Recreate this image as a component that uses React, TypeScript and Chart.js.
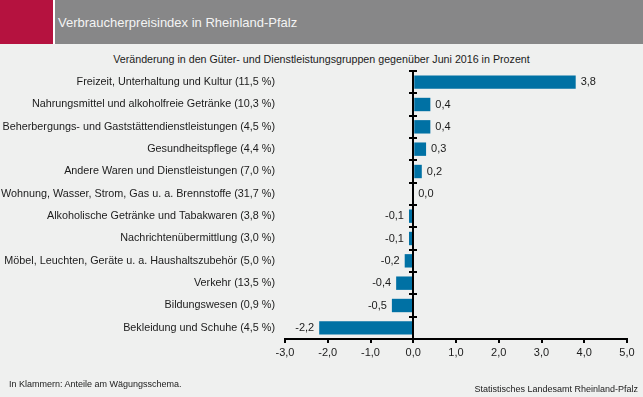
import React, { useEffect, useRef } from 'react';
import { Chart, registerables } from 'chart.js';

Chart.register(...registerables);

const title = 'Verbraucherpreisindex in Rheinland-Pfalz';
const subtitle = 'Veränderung in den Güter- und Dienstleistungsgruppen gegenüber Juni 2016 in Prozent';
const noteLeft = 'In Klammern: Anteile am Wägungsschema.';
const noteRight = 'Statistisches Landesamt Rheinland-Pfalz';

const categories = [
  'Freizeit, Unterhaltung und Kultur (11,5 %)',
  'Nahrungsmittel und alkoholfreie Getränke (10,3 %)',
  'Beherbergungs- und Gaststättendienstleistungen (4,5 %)',
  'Gesundheitspflege (4,4 %)',
  'Andere Waren und Dienstleistungen (7,0 %)',
  'Wohnung, Wasser, Strom, Gas u. a. Brennstoffe (31,7 %)',
  'Alkoholische Getränke und Tabakwaren (3,8 %)',
  'Nachrichtenübermittlung (3,0 %)',
  'Möbel, Leuchten, Geräte u. a. Haushaltszubehör (5,0 %)',
  'Verkehr (13,5 %)',
  'Bildungswesen (0,9 %)',
  'Bekleidung und Schuhe (4,5 %)',
];

const values = [3.8, 0.4, 0.4, 0.3, 0.2, 0.0, -0.1, -0.1, -0.2, -0.4, -0.5, -2.2];

const xTickValues = [-3, -2, -1, 0, 1, 2, 3, 4, 5];
const xTickLabels = ['-3,0', '-2,0', '-1,0', '0,0', '1,0', '2,0', '3,0', '4,0', '5,0'];

const FONT = '"Liberation Sans", Arial, Helvetica, sans-serif';
const TEXT = '#1b1b1b';
const BAR = '#0071a4';
const BG = '#eff0ef';

const fmt = (v: number) => v.toFixed(1).replace('.', ',');

const zeroAxisPlugin = {
  id: 'zeroAxis',
  afterDatasetsDraw(chart: any) {
    const { ctx, chartArea, scales } = chart;
    const xs = scales.x;
    const ys = scales.y;
    const x0 = Math.round(xs.getPixelForValue(0));
    ctx.save();
    ctx.strokeStyle = '#000';
    ctx.lineWidth = 2;
    ctx.beginPath();
    ctx.moveTo(x0, chartArea.top);
    ctx.lineTo(x0, chartArea.bottom);
    ctx.stroke();
    const step = ys.getPixelForValue(1) - ys.getPixelForValue(0);
    ctx.beginPath();
    for (let i = 0; i < categories.length; i++) {
      const yb = Math.round(ys.getPixelForValue(i) - step / 2);
      ctx.moveTo(x0 - 4, yb);
      ctx.lineTo(x0 + 4, yb);
    }
    ctx.stroke();

    const meta = chart.getDatasetMeta(0);
    ctx.font = `11px ${FONT}`;
    ctx.fillStyle = TEXT;
    ctx.textBaseline = 'middle';
    meta.data.forEach((el: any, i: number) => {
      const v = values[i];
      const txt = fmt(v);
      if (v < 0) {
        ctx.textAlign = 'right';
        ctx.fillText(txt, el.x - 5, el.y);
      } else {
        ctx.textAlign = 'left';
        ctx.fillText(txt, el.x + 5, el.y);
      }
    });
    ctx.restore();
  },
};

export default function App() {
  const ref = useRef<HTMLCanvasElement | null>(null);

  useEffect(() => {
    if (!ref.current) return;
    const chart = new Chart(ref.current, {
      type: 'bar',
      data: {
        labels: categories,
        datasets: [
          {
            data: values,
            backgroundColor: BAR,
            borderWidth: 0,
            barPercentage: 0.6,
            categoryPercentage: 1,
          },
        ],
      },
      options: {
        indexAxis: 'y',
        animation: false,
        responsive: false,
        devicePixelRatio: 1,
        layout: { padding: { top: 71, right: 16, bottom: 28, left: 0 } },
        plugins: {
          legend: { display: false },
          tooltip: { enabled: false },
          title: { display: false },
        },
        scales: {
          x: {
            type: 'linear',
            min: -3,
            max: 5,
            afterBuildTicks: (scale: any) => {
              scale.ticks = xTickValues.map((v) => ({ value: v }));
            },
            afterFit: (scale: any) => {
              scale.height = 30;
            },
            ticks: {
              callback: (v: any) => {
                const idx = xTickValues.indexOf(Number(v));
                return idx >= 0 ? xTickLabels[idx] : '';
              },
              font: { family: FONT, size: 11 },
              color: TEXT,
              padding: 3,
              maxRotation: 0,
            },
            grid: {
              drawOnChartArea: false,
              drawTicks: true,
              tickLength: 4,
              color: '#000',
              lineWidth: 2,
            },
            border: { display: true, color: '#000', width: 2 },
          },
          y: {
            type: 'category',
            afterFit: (scale: any) => {
              scale.width = 285;
            },
            ticks: {
              font: { family: FONT, size: 10.8 },
              color: TEXT,
              padding: 10,
              autoSkip: false,
            },
            grid: { display: false, drawTicks: false },
            border: { display: false },
          },
        },
      },
      plugins: [zeroAxisPlugin],
    } as any);
    return () => chart.destroy();
  }, []);

  return (
    <div
      style={{
        position: 'absolute',
        left: 0,
        top: 0,
        width: 643,
        height: 397,
        background: BG,
        fontFamily: FONT,
        overflow: 'hidden',
      }}
    >
      <div style={{ position: 'absolute', left: 0, top: 0, width: 53, height: 44, background: '#b5123f' }} />
      <div style={{ position: 'absolute', left: 53, top: 0, width: 2, height: 44, background: '#ffffff' }} />
      <div
        style={{
          position: 'absolute',
          left: 55,
          top: 0,
          width: 588,
          height: 44,
          background: '#878788',
        }}
      />
      <div
        style={{
          position: 'absolute',
          left: 58,
          top: 15,
          fontSize: 13,
          lineHeight: '16px',
          color: '#f4f4f4',
          whiteSpace: 'nowrap',
        }}
      >
        {title}
      </div>
      <div
        style={{
          position: 'absolute',
          left: 0,
          width: 643,
          top: 52,
          textAlign: 'center',
          fontSize: 10.7,
          lineHeight: '14px',
          color: TEXT,
          whiteSpace: 'nowrap',
        }}
      >
        {subtitle}
      </div>
      <canvas
        ref={ref}
        width={643}
        height={397}
        style={{ position: 'absolute', left: 0, top: 0, width: 643, height: 397 }}
      />
      <div
        style={{
          position: 'absolute',
          left: 9,
          top: 378,
          fontSize: 9,
          lineHeight: '12px',
          color: TEXT,
          whiteSpace: 'nowrap',
        }}
      >
        {noteLeft}
      </div>
      <div
        style={{
          position: 'absolute',
          right: 5,
          top: 383,
          fontSize: 9,
          lineHeight: '12px',
          color: TEXT,
          whiteSpace: 'nowrap',
        }}
      >
        {noteRight}
      </div>
    </div>
  );
}
